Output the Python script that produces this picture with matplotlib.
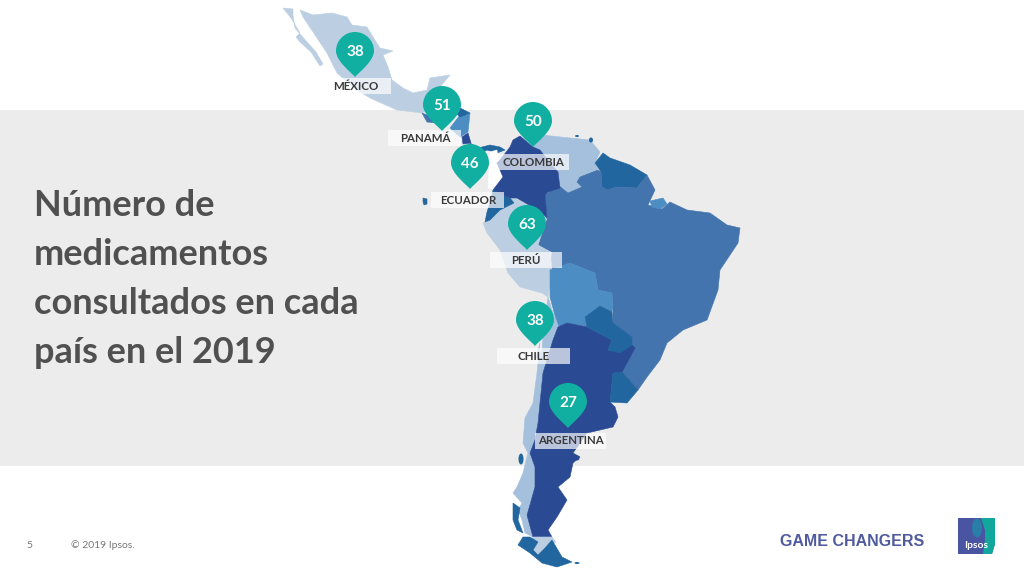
import matplotlib
matplotlib.use("Agg")
import matplotlib.pyplot as plt
from matplotlib.patches import Polygon, Rectangle, PathPatch, Ellipse
from matplotlib.path import Path

plt.rcParams['font.family'] = ['Lato', 'DejaVu Sans']

# ---- data ----
countries = ["MÉXICO", "PANAMÁ", "COLOMBIA", "ECUADOR", "PERÚ", "CHILE", "ARGENTINA"]
values = [38, 51, 50, 46, 63, 38, 27]
title_lines = ["Número de", "medicamentos", "consultados en cada", "país en el 2019"]

# pin anchor (circle centre) and label strip, in reference pixels
pin_x = [355, 442, 533, 470, 527, 535, 568]
pin_y = [51, 105, 121, 163, 224, 320, 402]
label_x = [356, 425, 533, 468, 526, 534, 571]
label_y = [86, 138, 162, 200, 260, 356, 441]
strip_l = [334, 388, 497, 431, 490, 497, 535]
strip_r = [391, 461, 569, 504, 562, 570, 606]

# country outlines, in reference pixels
mexico_ca = [(300,10),(313,15),(332,13),(347,17),(352,25),(367,27),(373,37),(380,48),(393,51),(383,55),(388,67),
             (392,80),(403,88),(413,93),(427,90),(430,78),(450,75),(440,87),(445,100),(430,107),(422,113),(397,110),
             (370,98),(357,90),(337,73),(327,53),(315,35),(303,17)]
baja = [(283,8),(293,9),(293,15),(295,28),(307,42),(316,52),(323,64),(320,66),(311,52),(300,42),(296,37),(300,33),(291,18)]
nicaragua = [(450,128),(460,115),(470,113),(468,132),(460,137)]
honduras = [(460,108),(470,113),(460,117),(456,113)]
salvador = [(422,113),(427,115),(437,123),(427,122)]
costarica = [(462,137),(468,133),(471,143),(463,144)]
panama = [(470,143),(478,148),(490,145),(500,147),(505,150),(497,153),(487,150),(478,155),(470,150)]
pacific_gap = [(490,152),(497,150),(498,163),(503,177),(495,190),(488,188)]
colombia = [(513,140),(520,136),(533,147),(540,150),(550,163),(558,172),(560,188),(548,192),(545,195),(547,218),
            (541,212),(517,198),(510,198),(493,190),(503,177),(497,163),(500,160),(510,147)]
venezuela = [(533,147),(542,135),(570,138),(590,140),(600,152),(595,163),(598,170),(580,177),(577,182),(582,187),
             (568,193),(558,185),(558,172),(550,163)]
guianas = [(595,163),(603,153),(610,158),(630,165),(647,175),(637,188),(617,187),(607,190),(602,187),(601,172)]
brazil = [(545,195),(558,185),(568,193),(582,187),(577,182),(580,177),(598,170),(601,172),(602,187),(607,190),(617,187),
          (637,188),(647,175),(655,190),(648,205),(662,209),(670,202),(687,210),(710,213),(727,225),(740,228),(738,243),
          (720,270),(718,290),(707,320),(683,330),(667,343),(660,360),(647,377),(638,390),(622,372),(613,373),(612,340),
          (632,345),(632,337),(613,323),(613,307),(612,293),(598,290),(595,273),(570,263),(550,270),(552,252),(538,245),
          (547,218)]
bolivia = [(550,270),(570,263),(595,273),(598,290),(612,293),(613,307),(612,312),(600,306),(585,317),(587,327),(567,323),
           (558,327),(550,297)]
peru = [(483,223),(490,220),(500,210),(510,198),(517,198),(541,212),(547,218),(538,245),(550,252),(552,270),(548,297),
        (542,293),(520,287),(508,273),(500,250),(487,233)]
ecuador = [(493,190),(510,198),(514,203),(500,210),(490,220),(485,222),(487,212),(490,203)]
galapagos = [(423,198),(427,199),(427,204),(424,205),(423,202)]
paraguay = [(585,317),(600,306),(612,312),(613,323),(632,337),(632,345),(620,353),(608,350),(612,340),(587,327)]
uruguay = [(613,373),(622,372),(638,390),(627,403),(610,402)]
chile = [(548,297),(552,310),(560,330),(553,340),(543,373),(538,423),(535,440),(530,453),(535,467),(535,487),(527,513),
         (533,537),(525,533),(522,520),(518,510),(522,503),(513,493),(517,487),(523,473),(528,453),(523,443),(525,418),
         (533,403),(537,373),(540,343),(535,360),(542,350),(544,325)]
argentina = [(553,340),(558,327),(567,323),(587,327),(612,340),(608,350),(620,353),(632,345),(635,348),(622,372),(613,373),
             (610,402),(615,407),(618,417),(613,427),(587,433),(573,453),(580,457),(573,463),(570,477),(558,487),(567,500),
             (557,517),(548,530),(552,537),(533,537),(527,515),(535,487),(535,467),(530,453),(535,440),(538,423),(543,373)]
patagonia_pale = [(533,537),(552,537),(556,542),(545,548),(538,555),(530,550)]
tierra = [(523,537),(530,537),(538,542),(533,550),(538,555),(545,548),(552,540),(562,557),(572,562),(557,567),(542,563),(530,553),(518,545)]
chile_isles = [(513,503),(520,508),(518,520),(523,533),(517,530),(513,520)]
marajo = [(650,201),(663,198),(667,204),(660,209),(652,207)]

NAVY = "#2b4a94"; STEEL = "#4474ad"; SKY = "#4c8dc3"; TEAL_BLUE = "#21669e"; PALE = "#bccfe2"; MID = "#a4c0dd"
shapes = [(mexico_ca, PALE), (baja, PALE), (salvador, STEEL), (nicaragua, SKY), (honduras, TEAL_BLUE), (costarica, NAVY),
          (panama, TEAL_BLUE), (pacific_gap, "#ffffff"), (venezuela, MID), (guianas, TEAL_BLUE), (brazil, STEEL),
          (peru, PALE), (ecuador, TEAL_BLUE), (colombia, NAVY), (bolivia, SKY), (chile, MID), (argentina, NAVY),
          (paraguay, TEAL_BLUE), (uruguay, TEAL_BLUE), (patagonia_pale, PALE), (tierra, TEAL_BLUE), (chile_isles, TEAL_BLUE),
          (galapagos, TEAL_BLUE), (marajo, SKY)]

PIN = "#10afa1"

fig = plt.figure(figsize=(10.24, 5.76), dpi=100, facecolor="white")
ax = fig.add_axes([0, 0, 1, 1])
ax.set_xlim(0, 1024); ax.set_ylim(576, 0); ax.axis("off")

ax.add_patch(Rectangle((0, 110), 1024, 356, fc="#ececec", ec="none", zorder=0))

for pts, col in shapes:
    ax.add_patch(Polygon(pts, closed=True, fc=col, ec=col, lw=0.4, zorder=1))
# small islands
for (ix, iy, w, h, col) in [(521, 459, 5, 11, TEAL_BLUE), (577, 458, 5, 5, NAVY), (577, 136, 4, 2, TEAL_BLUE),
                            (591, 140, 4, 5, TEAL_BLUE), (577, 563, 5, 2, TEAL_BLUE)]:
    ax.add_patch(Ellipse((ix, iy), w, h, fc=col, ec="none", zorder=1))

def pin_path(cx, cy, r=19.0, drop=26.0):
    k = 0.5523 * r
    verts = [(cx, cy + drop),
             (cx - 3, cy + drop - 4), (cx - r, cy + r * 0.55), (cx - r, cy),
             (cx - r, cy - k), (cx - k, cy - r), (cx, cy - r),
             (cx + k, cy - r), (cx + r, cy - k), (cx + r, cy),
             (cx + r, cy + r * 0.55), (cx + 3, cy + drop - 4), (cx, cy + drop),
             (cx, cy + drop)]
    codes = [Path.MOVETO] + [Path.CURVE4] * 12 + [Path.CLOSEPOLY]
    return Path(verts, codes)

for name, val, px, py, lx, ly, sl, sr in zip(countries, values, pin_x, pin_y, label_x, label_y, strip_l, strip_r):
    ax.add_patch(Rectangle((sl, ly - 8), sr - sl, 16, fc="white", alpha=0.68, ec="none", zorder=2))
    ax.text(lx, ly, name, ha="center", va="center", fontsize=8.3, fontweight="bold", color="#3a3a3a", zorder=5)
for name, val, px, py in zip(countries, values, pin_x, pin_y):
    ax.add_patch(PathPatch(pin_path(px, py), fc=PIN, ec="none", zorder=4))
    ax.text(px, py + 1, str(val), ha="center", va="center", fontsize=11, fontweight="bold", color="white", zorder=5)

for i, line in enumerate(title_lines):
    ax.text(34, 205 + i * 49.3, line, ha="left", va="center", fontsize=26, fontweight="bold", color="#505050", zorder=5)

ax.text(29, 545, "5", ha="center", va="center", fontsize=7.5, color="#777777")
ax.text(71, 545, "© 2019 Ipsos.", ha="left", va="center", fontsize=7.5, color="#777777")
ax.text(780, 542, "GAME CHANGERS", ha="left", va="center", fontsize=11.5, fontweight="bold",
        family="Liberation Sans", color="#4f5a9f")

# logo
ax.add_patch(Polygon([(958, 518), (995, 518), (995, 544), (992, 554), (958, 554)], fc="#4a55a1", ec="none", zorder=3))
ax.add_patch(Polygon([(981, 518), (995, 518), (995, 544), (992, 554), (983, 554), (985, 540), (985, 530)], fc="#11a79d", ec="none", zorder=3))
ax.add_patch(Ellipse((977, 528), 10, 19, fc="#2a7fa8", ec="none", zorder=3))
ax.text(976, 545, "Ipsos", ha="center", va="center", fontsize=7.5, fontweight="bold", color="white", zorder=4)

fig.savefig("out.png", dpi=100)
